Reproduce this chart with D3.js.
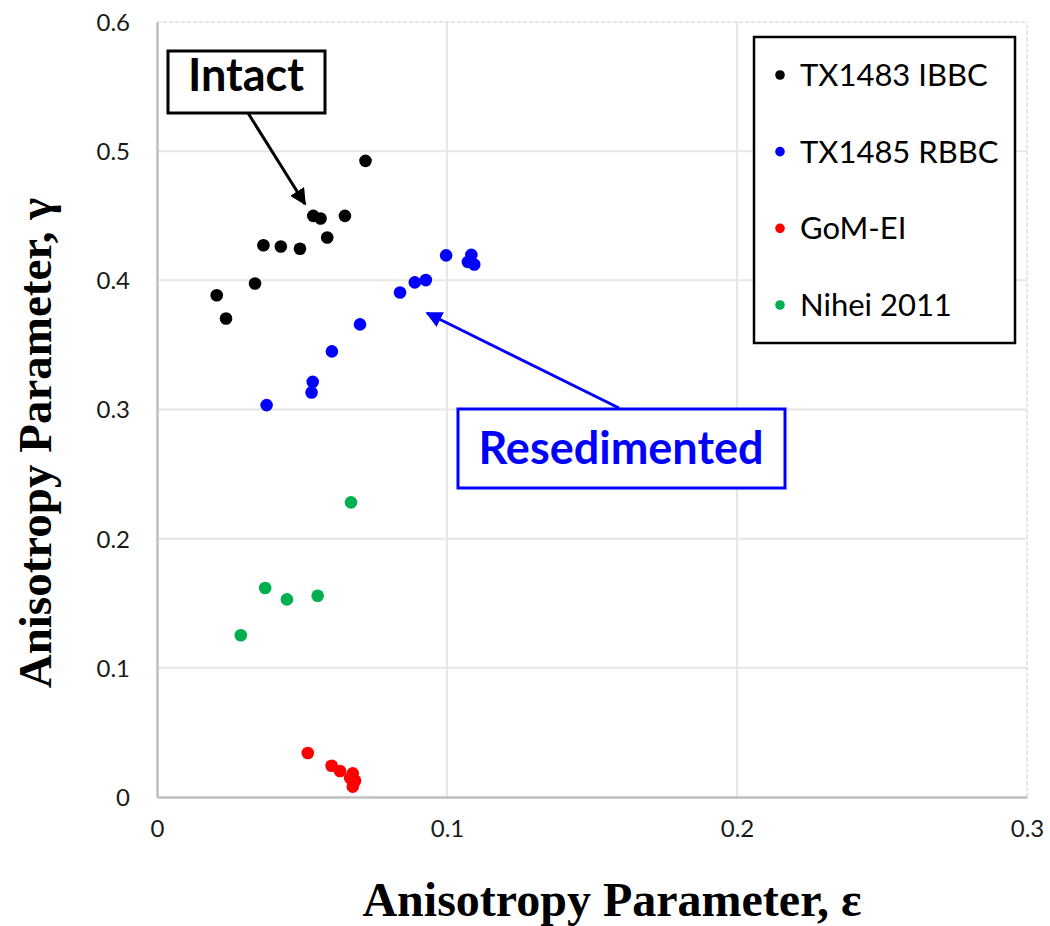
<!DOCTYPE html>
<html>
<head>
<meta charset="utf-8">
<script src="https://cdn.jsdelivr.net/npm/d3@7"></script>
<style>
  body { margin: 0; background: #fff; }
  svg { display: block; }
</style>
</head>
<body>
<div id="chart"></div>
<script>
// Data (epsilon, gamma)
const ibbc = [
  [0.0206, 0.3885], [0.0238, 0.3705], [0.0338, 0.3976], [0.0367, 0.4272],
  [0.0427, 0.4262], [0.0493, 0.4244], [0.0539, 0.4499], [0.0564, 0.4479],
  [0.0587, 0.4332], [0.0648, 0.4499], [0.0719, 0.4925]
];
const rbbc = [
  [0.0378, 0.3034], [0.0533, 0.3132], [0.0537, 0.3214], [0.0603, 0.3450],
  [0.0700, 0.3659], [0.0838, 0.3906], [0.0889, 0.3984], [0.0927, 0.4002],
  [0.0997, 0.4193], [0.1084, 0.4197], [0.1072, 0.4143], [0.1094, 0.4123]
];
const gomEI = [
  [0.0520, 0.0341], [0.0602, 0.0242], [0.0631, 0.0201], [0.0675, 0.0183],
  [0.0683, 0.0126], [0.0675, 0.0080], [0.0666, 0.0147]
];
const nihei = [
  [0.0289, 0.1252], [0.0373, 0.1618], [0.0448, 0.1530], [0.0554, 0.1558],
  [0.0669, 0.2281]
];
const seriesNames = ["TX1483 IBBC", "TX1485 RBBC", "GoM-EI", "Nihei 2011"];
const seriesColors = ["#000000", "#0000ff", "#ff0000", "#00b050"];
const seriesData = [ibbc, rbbc, gomEI, nihei];
const xTicks = [0, 0.1, 0.2, 0.3];
const yTicks = [0, 0.1, 0.2, 0.3, 0.4, 0.5, 0.6];

const width = 1050, height = 926;
const margin = { top: 22, right: 23, bottom: 129, left: 157 };
const sans = "Lato, 'Open Sans', sans-serif";
const serif = "'Liberation Serif', 'Times New Roman', serif";

const svg = d3.select("#chart").append("svg")
  .attr("width", width)
  .attr("height", height);

const x = d3.scaleLinear().domain([0, 0.3]).range([margin.left, width - margin.right]);
const y = d3.scaleLinear().domain([0, 0.6]).range([height - margin.bottom, margin.top]);

// grid
const grid = svg.append("g");
grid.selectAll("line.h")
  .data(yTicks.filter(d => d > 0))
  .join("line")
  .attr("x1", x(0)).attr("x2", x(0.3))
  .attr("y1", d => y(d)).attr("y2", d => y(d))
  .attr("stroke", "#e6e6e6").attr("stroke-width", 2)
  .attr("stroke-dasharray", d => d === 0.6 ? "4,2" : null);
grid.selectAll("line.v")
  .data(xTicks.filter(d => d > 0))
  .join("line")
  .attr("x1", d => x(d)).attr("x2", d => x(d))
  .attr("y1", y(0)).attr("y2", y(0.6))
  .attr("stroke", "#e6e6e6").attr("stroke-width", 2)
  .attr("stroke-dasharray", d => d === 0.3 ? "4,2" : null);

// axes
const xAxis = svg.append("g")
  .attr("transform", `translate(0,${y(0)})`)
  .call(d3.axisBottom(x).tickValues(xTicks).tickSize(0).tickPadding(23).tickFormat(d3.format("")));
const yAxis = svg.append("g")
  .attr("transform", `translate(${x(0)},0)`)
  .call(d3.axisLeft(y).tickValues(yTicks).tickSize(0).tickPadding(27).tickFormat(d3.format("")));
[xAxis, yAxis].forEach(a => {
  a.select(".domain").attr("stroke", "#bfbfbf").attr("stroke-width", 2.5);
  a.selectAll("text")
    .attr("font-family", sans)
    .attr("font-size", 24)
    .attr("fill", "#1a1a1a");
});
yAxis.selectAll("text").attr("dy", "0.35em");

// points
seriesData.forEach((data, i) => {
  svg.append("g")
    .selectAll("circle")
    .data(data)
    .join("circle")
    .attr("cx", d => x(d[0]))
    .attr("cy", d => y(d[1]))
    .attr("r", 6.3)
    .attr("fill", seriesColors[i]);
});

// arrow markers
const defs = svg.append("defs");
[["arrowBlack", "#000"], ["arrowBlue", "#0000ff"]].forEach(([id, c]) => {
  defs.append("marker")
    .attr("id", id)
    .attr("viewBox", "0 0 10 10")
    .attr("refX", 9).attr("refY", 5)
    .attr("markerWidth", 5.5).attr("markerHeight", 5.5)
    .attr("markerUnits", "strokeWidth")
    .attr("orient", "auto")
    .append("path")
    .attr("d", "M0,0 L10,5 L0,10 Z")
    .attr("fill", c);
});

// "Intact" annotation
svg.append("line")
  .attr("x1", 248).attr("y1", 113)
  .attr("x2", 305).attr("y2", 204)
  .attr("stroke", "#000").attr("stroke-width", 3)
  .attr("marker-end", "url(#arrowBlack)");
svg.append("rect")
  .attr("x", 168).attr("y", 51).attr("width", 157).attr("height", 62)
  .attr("fill", "#fff").attr("stroke", "#000").attr("stroke-width", 3);
svg.append("text")
  .attr("x", 246).attr("y", 91)
  .attr("text-anchor", "middle")
  .attr("font-family", sans)
  .attr("font-weight", "bold")
  .attr("font-size", 45)
  .attr("fill", "#000")
  .text("Intact");

// "Resedimented" annotation
svg.append("line")
  .attr("x1", 619).attr("y1", 408)
  .attr("x2", 427).attr("y2", 313)
  .attr("stroke", "#0000ff").attr("stroke-width", 3)
  .attr("marker-end", "url(#arrowBlue)");
svg.append("rect")
  .attr("x", 458).attr("y", 409).attr("width", 327).attr("height", 79)
  .attr("fill", "#fff").attr("stroke", "#0000ff").attr("stroke-width", 3);
svg.append("text")
  .attr("x", 621).attr("y", 464)
  .attr("text-anchor", "middle")
  .attr("font-family", sans)
  .attr("font-weight", "bold")
  .attr("font-size", 45)
  .attr("fill", "#0000ff")
  .text("Resedimented");

// legend
const legend = svg.append("g");
legend.append("rect")
  .attr("x", 754).attr("y", 37).attr("width", 261).attr("height", 306)
  .attr("fill", "#fff").attr("stroke", "#000").attr("stroke-width", 2.5);
const ly = d3.scalePoint().domain(seriesNames).range([75, 305]);
const item = legend.selectAll("g.item")
  .data(seriesNames)
  .join("g")
  .attr("transform", d => `translate(780,${ly(d)})`);
item.append("circle")
  .attr("r", 4.8)
  .attr("fill", (d, i) => seriesColors[i]);
item.append("text")
  .attr("x", 20).attr("dy", "0.35em")
  .attr("font-family", sans)
  .attr("font-size", 31)
  .attr("fill", "#000")
  .text(d => d);

// axis titles
svg.append("text")
  .attr("x", 612).attr("y", 916)
  .attr("text-anchor", "middle")
  .attr("font-family", serif)
  .attr("font-weight", "bold")
  .attr("font-size", 48)
  .text("Anisotropy Parameter, ε");
svg.append("text")
  .attr("transform", "translate(51,443) rotate(-90)")
  .attr("text-anchor", "middle")
  .attr("font-family", serif)
  .attr("font-weight", "bold")
  .attr("font-size", 47)
  .text("Anisotropy Parameter, γ");
</script>
</body>
</html>
